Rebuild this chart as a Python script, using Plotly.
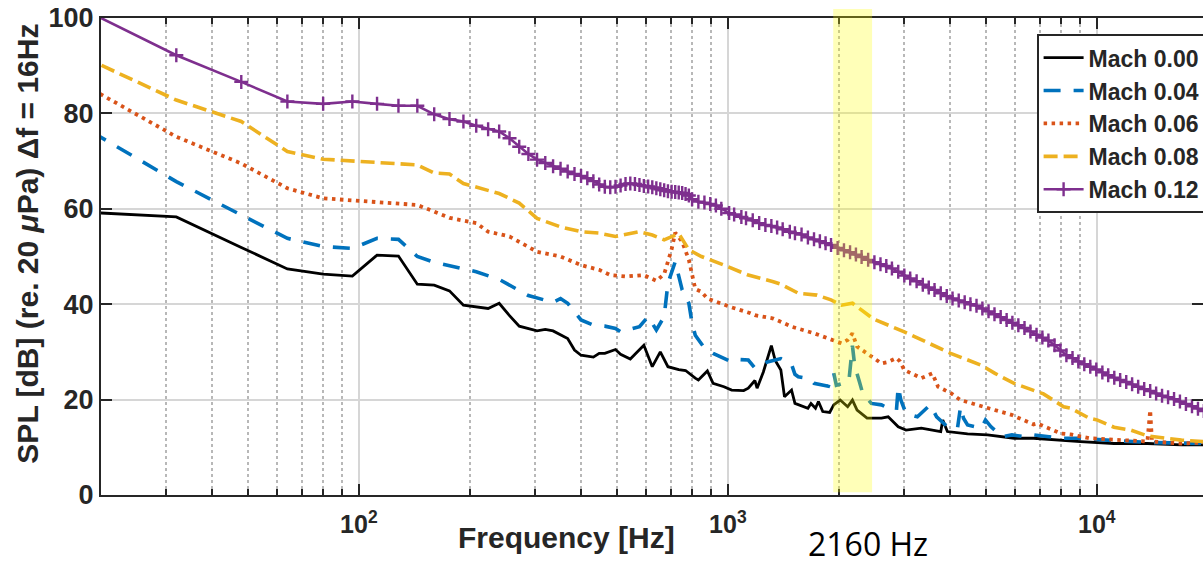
import math
import plotly.graph_objects as go

# ---------------- data ----------------
f_m00 = [16, 32, 48, 64, 80, 96, 112, 128, 144, 160,
         176, 192, 224, 240, 256, 272, 304, 320, 336, 368,
         384, 400, 432, 448, 464, 496, 512, 544, 592, 624,
         656, 688, 736, 768, 816, 832, 880, 912, 976, 1024,
         1104, 1136, 1184, 1200, 1248, 1312, 1344, 1392, 1424, 1488,
         1520, 1648, 1680, 1728, 1760, 1808, 1888, 1936, 2016, 2112,
         2176, 2240, 2384, 2608, 2720, 2896, 3040, 3344, 3776, 3824,
         3936, 4464, 5056, 5968, 6736, 7792, 9024, 11136, 13712, 16960,
         19504]
spl_m00 = [59.5, 58.3, 51.9, 47.4, 46.3, 45.9, 50.3, 50.1, 44.2, 44.0,
           42.8, 39.8, 39.1, 40.2, 37.6, 35.4, 34.4, 34.7, 34.4, 32.8,
           30.4, 29.3, 28.9, 29.7, 29.7, 30.5, 29.5, 28.5, 31.4, 26.9,
           30.0, 26.9, 26.3, 26.1, 24.5, 24.1, 26.0, 23.4, 22.7, 22.0,
           21.9, 22.4, 24.0, 22.4, 25.8, 31.3, 28.2, 26.2, 20.6, 22.0,
           19.2, 18.2, 19.2, 18.2, 19.6, 17.5, 17.3, 18.9, 19.9, 18.5,
           19.9, 17.8, 16.1, 16.1, 16.4, 14.3, 13.6, 14.0, 13.3, 15.7,
           13.3, 12.8, 12.6, 11.9, 11.9, 11.5, 11.2, 10.8, 10.8, 10.5,
           10.5]

f_m04 = [16, 32, 48, 64, 80, 96, 112, 128, 144, 160,
         208, 240, 288, 336, 352, 368, 400, 432, 464, 496,
         512, 576, 608, 640, 672, 688, 720, 752, 784, 800,
         816, 864, 912, 1024, 1072, 1136, 1184, 1232, 1280, 1392,
         1440, 1488, 1520, 1552, 1664, 1712, 1872, 1936, 1968, 2048,
         2128, 2176, 2208, 2272, 2320, 2448, 2608, 2720, 2864, 2896,
         2944, 3040, 3264, 3536, 3680, 3936, 4192, 4272, 4352, 4464,
         4864, 4992, 5168, 5536, 5888, 6400, 6736, 8000, 9024, 11136,
         14000, 19504]
spl_m04 = [79.4, 65.7, 58.7, 53.8, 52.1, 51.7, 53.8, 53.6, 50.0, 48.8,
           46.8, 45.2, 41.8, 40.4, 41.2, 40.2, 36.7, 35.6, 35.4, 34.9,
           34.2, 35.3, 37.4, 34.6, 37.4, 44.4, 48.9, 43.0, 40.2, 36.0,
           33.5, 30.8, 29.7, 27.9, 28.4, 28.3, 26.6, 27.3, 27.9, 28.6,
           27.9, 27.4, 25.3, 24.8, 24.4, 23.4, 22.8, 25.6, 23.0, 23.4,
           23.8, 31.3, 27.0, 23.8, 21.3, 19.2, 18.9, 18.2, 17.8, 22.7,
           19.9, 17.1, 16.4, 18.9, 16.4, 14.3, 14.0, 18.5, 16.1, 14.7,
           14.0, 15.7, 14.3, 12.2, 12.6, 12.2, 12.6, 11.9, 11.9, 11.4,
           11.0, 10.8]

f_m06 = [16, 32, 48, 64, 80, 96, 112, 128, 144, 160,
         176, 208, 224, 256, 288, 304, 352, 400, 448, 480,
         528, 592, 640, 672, 704, 720, 752, 784, 816, 848,
         880, 1008, 1152, 1184, 1328, 1424, 1488, 1712, 1904, 2032,
         2112, 2176, 2240, 2384, 2480, 2608, 2720, 2864, 2928, 3008,
         3344, 3584, 3712, 4032, 4272, 4544, 4864, 5616, 5872, 6736,
         6896, 8000, 8496, 9536, 10464, 11136, 13712, 13952, 14016, 14112,
         16960, 19504]
spl_m06 = [88.2, 75.1, 69.5, 64.3, 62.2, 61.8, 61.4, 61.2, 60.8, 59.4,
           58.1, 57.0, 55.2, 54.2, 52.1, 51.0, 50.0, 48.2, 47.2, 46.1,
           45.8, 46.1, 44.9, 46.3, 51.5, 55.0, 53.1, 49.3, 43.2, 42.6,
           41.2, 39.5, 38.1, 37.7, 37.0, 36.0, 35.3, 33.9, 32.5, 31.8,
           32.5, 33.9, 31.1, 29.7, 28.7, 27.6, 27.9, 28.7, 28.0, 26.2,
           24.5, 25.5, 22.7, 21.3, 19.9, 19.3, 18.5, 17.3, 16.8, 14.8,
           15.0, 12.9, 12.7, 11.9, 11.7, 11.5, 11.2, 17.8, 13.0, 11.2,
           10.8, 11.0]

f_m08 = [16, 32, 48, 64, 80, 96, 112, 128, 144, 160,
         176, 192, 240, 272, 304, 352, 400, 448, 496, 576,
         624, 672, 736, 784, 848, 976, 1136, 1328, 1392, 1552,
         1744, 1904, 2032, 2176, 2480, 3008, 3504, 4016, 4864, 5296,
         5968, 7168, 8128, 8496, 9536, 10048, 11136, 12368, 13712, 15024,
         16960, 19504]
spl_m08 = [93.6, 82.8, 78.3, 72.0, 70.4, 70.0, 69.7, 69.4, 69.2, 67.5,
           67.3, 65.3, 63.2, 61.2, 58.0, 56.2, 55.2, 54.9, 54.2, 55.2,
           54.5, 53.5, 54.8, 51.4, 50.0, 48.2, 46.1, 44.7, 44.2, 42.3,
           41.9, 40.9, 39.8, 40.2, 36.9, 34.2, 31.8, 29.7, 27.2, 25.5,
           23.4, 21.2, 18.5, 18.2, 16.1, 15.7, 14.2, 13.6, 12.4, 12.0,
           11.5, 11.2]

f_m12 = [16, 32, 48, 64, 80, 96, 112, 128, 144, 160,
         176, 192, 208, 224, 240, 256, 272, 288, 304, 320,
         336, 352, 368, 384, 400, 416, 432, 448, 464, 480,
         496, 512, 528, 544, 560, 576, 592, 608, 624, 640,
         656, 672, 688, 704, 720, 736, 752, 768, 784, 800,
         832, 864, 896, 928, 960, 1008, 1040, 1088, 1120, 1168,
         1216, 1264, 1312, 1360, 1408, 1472, 1520, 1584, 1648, 1712,
         1776, 1840, 1904, 1984, 2064, 2144, 2224, 2304, 2400, 2496,
         2592, 2688, 2784, 2896, 3008, 3120, 3248, 3376, 3504, 3632,
         3776, 3920, 4064, 4224, 4384, 4544, 4720, 4896, 5088, 5280,
         5488, 5696, 5904, 6128, 6368, 6608, 6864, 7120, 7392, 7680,
         7968, 8272, 8592, 8912, 9248, 9600, 9968, 10352, 10736, 11152,
         11568, 12016, 12464, 12944, 13440, 13952, 14480, 15024, 15600, 16192,
         16800, 17440, 18112, 18800, 19504]
spl_m12 = [103.7, 92.2, 86.6, 82.5, 82.0, 82.5, 82.0, 81.6, 81.6, 79.8,
           78.8, 78.3, 77.4, 76.7, 76.2, 74.8, 73.0, 71.5, 70.3, 69.6,
           68.9, 68.4, 67.8, 67.3, 66.9, 66.4, 65.8, 65.1, 64.6, 64.5,
           64.6, 64.9, 65.2, 65.3, 65.2, 65.0, 64.8, 64.7, 64.5, 64.3,
           64.1, 63.9, 63.7, 63.6, 63.5, 63.4, 63.3, 63.1, 62.8, 62.0,
           61.5, 61.3, 61.0, 60.7, 60.0, 59.1, 58.8, 58.3, 58.0, 57.6,
           57.0, 56.6, 56.4, 56.1, 55.7, 55.2, 54.9, 54.6, 54.0, 53.6,
           53.2, 52.8, 52.4, 51.8, 51.3, 50.9, 50.4, 49.9, 49.3, 48.8,
           48.4, 48.0, 47.5, 46.8, 46.0, 45.4, 44.8, 44.1, 43.5, 43.0,
           42.3, 41.7, 41.2, 40.8, 40.4, 40.0, 39.7, 39.1, 38.5, 37.9,
           37.3, 36.7, 36.1, 35.6, 35.0, 34.3, 33.6, 33.0, 32.4, 31.4,
           30.3, 29.3, 28.7, 28.0, 27.4, 26.9, 26.3, 25.7, 25.1, 24.6,
           24.1, 23.7, 23.2, 22.7, 22.2, 21.8, 21.3, 20.8, 20.5, 20.1,
           19.6, 19.1, 18.6, 18.1, 17.6]

series_names = ["Mach 0.00", "Mach 0.04", "Mach 0.06", "Mach 0.08", "Mach 0.12"]
x_range_hz = [20, 19400]
y_ticks = [0, 20, 40, 60, 80, 100]
x_major = [100, 1000, 10000]
x_major_text = ["10<sup>2</sup>", "10<sup>3</sup>", "10<sup>4</sup>"]
x_minor = [30, 40, 50, 60, 70, 80, 90, 200, 300, 400, 500, 600, 700, 800, 900,
           2000, 3000, 4000, 5000, 6000, 7000, 8000, 9000]
band_hz = [1930, 2460]
band_label = "2160 Hz"

# ---------------- figure ----------------
AX = "#262626"
BOLD = dict(family="Liberation Sans, Arial, sans-serif", color=AX, weight="bold")

fig = go.Figure()
styles = [
    dict(line=dict(color="#000000", width=2.8), mode="lines"),
    dict(line=dict(color="#0072BD", width=3.6, dash="17px,13px"), mode="lines"),
    dict(line=dict(color="#D95319", width=3.8, dash="3.5px,4.5px"), mode="lines"),
    dict(line=dict(color="#EDB120", width=3.6, dash="14px,6px"), mode="lines"),
    dict(line=dict(color="#7E2F8E", width=2.6), mode="lines+markers",
         marker=dict(symbol="cross-thin", size=10, color="#7E2F8E",
                     line=dict(color="#7E2F8E", width=2.4))),
]
data = [(f_m00, spl_m00), (f_m04, spl_m04), (f_m06, spl_m06),
        (f_m08, spl_m08), (f_m12, spl_m12)]
for name, (fx, fy), st in zip(series_names, data, styles):
    fig.add_trace(go.Scatter(x=fx, y=fy, name=name, **st))

fig.add_shape(type="rect", xref="x", yref="paper",
              x0=band_hz[0], x1=band_hz[1], y0=0.006, y1=1.019,
              fillcolor="rgba(255,255,0,0.28)", line_width=0, layer="above")

fig.add_annotation(text="Frequency [Hz]", xref="paper", yref="paper",
                   x=0.422, y=-0.09, showarrow=False,
                   xanchor="center", yanchor="middle",
                   font=dict(size=30, **BOLD))
fig.add_annotation(text="SPL [dB] (re. 20 <i>μ</i>Pa) Δf = 16Hz",
                   xref="paper", yref="paper", textangle=-90,
                   x=-0.0667, y=0.528, showarrow=False,
                   xanchor="center", yanchor="middle",
                   font=dict(size=30, **BOLD))
fig.add_annotation(text=band_label, xref="paper", yref="paper",
                   x=0.696, y=-0.102, showarrow=False,
                   xanchor="center", yanchor="middle",
                   font=dict(family="Open Sans, sans-serif", size=32, color="#000000"))

fig.update_layout(
    width=1203, height=566,
    margin=dict(l=101, r=0, t=18, b=71, autoexpand=False),
    paper_bgcolor="white", plot_bgcolor="white",
    showlegend=True,
    legend=dict(x=0.849, y=0.966, xanchor="left", yanchor="top",
                bgcolor="white", bordercolor=AX, borderwidth=2,
                font=dict(size=23, **BOLD), tracegroupgap=0, itemwidth=40),
    xaxis=dict(type="log", range=[math.log10(x_range_hz[0]), math.log10(x_range_hz[1])],
               tickvals=x_major, ticktext=x_major_text,
               ticks="inside", ticklen=11, tickwidth=2, tickcolor=AX,
               showline=True, linecolor=AX, linewidth=2, mirror="ticks",
               showgrid=True, gridcolor="#d6d6d6", gridwidth=1.5,
               zeroline=False, tickfont=dict(size=25, **BOLD),
               ticklabelstandoff=6,
               minor=dict(tickvals=x_minor, ticks="inside", ticklen=6,
                          tickwidth=1.5, tickcolor=AX, showgrid=True,
                          griddash="dot", gridcolor="#b8b8b8", gridwidth=1.5)),
    yaxis=dict(range=[0, 100], tickvals=y_ticks,
               ticks="inside", ticklen=11, tickwidth=2, tickcolor=AX,
               showline=True, linecolor=AX, linewidth=2, mirror="ticks",
               showgrid=True, gridcolor="#d6d6d6", gridwidth=1.5,
               zeroline=False, tickfont=dict(size=27, **BOLD)),
)

fig.write_html("out.html")
